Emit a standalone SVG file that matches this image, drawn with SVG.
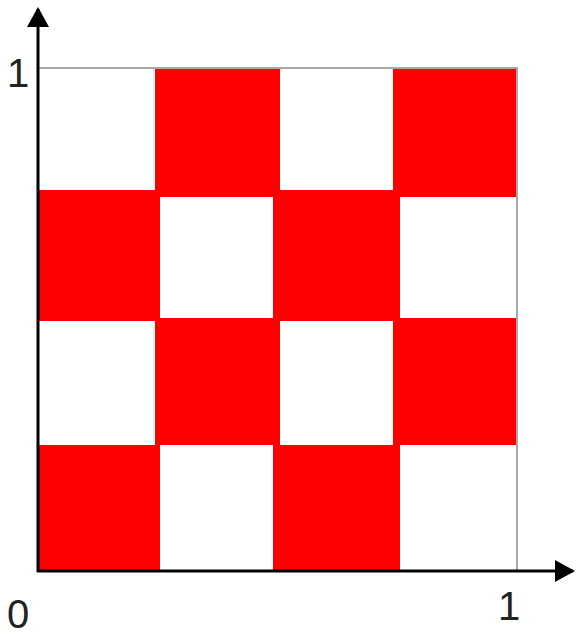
<svg xmlns="http://www.w3.org/2000/svg" width="576" height="635" viewBox="0 0 576 635">
<style>
.red{fill:#ff0000;stroke:none}
.frame{stroke:#a8a8a8;stroke-width:2;fill:none}
.axis{stroke:#000;stroke-width:3;fill:none}
.lbl{font-family:'Liberation Sans',Arimo,Helvetica,Arial,sans-serif;font-size:40px;fill:#222}
</style>
<defs>
<marker id="arr" viewBox="0 0 20 22" refX="18" refY="11" markerWidth="20" markerHeight="22" markerUnits="userSpaceOnUse" orient="auto">
<path d="M0,0 L20,11 L0,22 Z" fill="#000"/>
</marker>
</defs>
<rect width="576" height="635" fill="#fff"/>
<g id="board">
<rect class="red" x="155" y="68" width="125" height="129"/>
<rect class="red" x="393" y="68" width="124" height="129"/>
<rect class="red" x="38" y="190" width="122" height="131"/>
<rect class="red" x="273" y="190" width="127" height="131"/>
<rect class="red" x="155" y="318" width="125" height="127"/>
<rect class="red" x="393" y="318" width="124" height="127"/>
<rect class="red" x="38" y="445" width="122" height="126"/>
<rect class="red" x="273" y="445" width="127" height="126"/>
</g>
<g id="frame">
<path class="frame" d="M38,68 H517 V571"/>
</g>
<g id="axes">
<line class="axis" x1="37" y1="571" x2="573" y2="571" marker-end="url(#arr)"/>
<line class="axis" x1="38" y1="572" x2="38" y2="9" marker-end="url(#arr)"/>
</g>
<g id="labels">
<text class="lbl" x="7" y="87">1</text>
<text class="lbl" x="7" y="628">0</text>
<text class="lbl" x="498" y="620">1</text>
</g>
</svg>
